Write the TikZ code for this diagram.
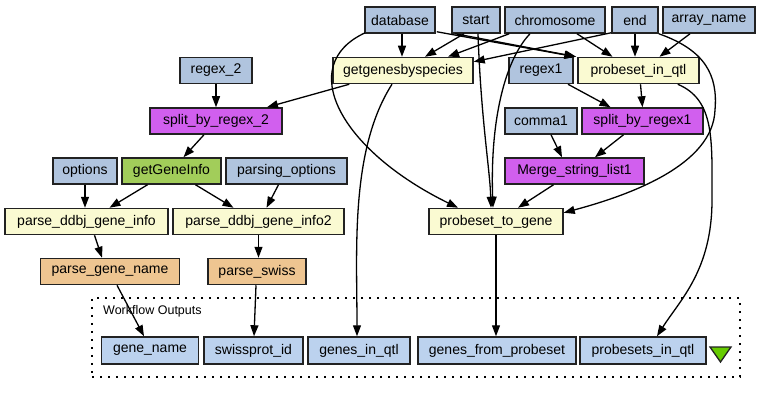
\documentclass[tikz,border=0pt]{standalone}
\usepackage{fontspec}
\setmainfont{Liberation Sans}
\usetikzlibrary{arrows.meta,calc}
\definecolor{inblue}{HTML}{B0C4DE}
\definecolor{yel}{HTML}{FAFAD2}
\definecolor{purp}{HTML}{D15FEE}
\definecolor{grn}{HTML}{A2CD5A}
\definecolor{org}{HTML}{EEC591}
\definecolor{outblue}{HTML}{BCD2EE}
\definecolor{trig}{HTML}{66CC00}
\definecolor{bord}{HTML}{222222}
\begin{document}
\begin{tikzpicture}[x=1pt,y=-1pt,
  box/.style={draw=bord,line width=1.5pt,minimum height=26pt,inner sep=0pt,font=\fontsize{14}{16}\selectfont},
  inbox/.style={box,fill=inblue},
  yelbox/.style={box,fill=yel},
  purbox/.style={box,fill=purp},
  grnbox/.style={box,fill=grn},
  orgbox/.style={box,fill=org},
  outbox/.style={box,fill=outblue,minimum height=27pt},
  edge/.style={line width=1.3pt,-{Triangle[length=11pt,width=8pt]}}
]
\useasboundingbox (0,0) rectangle (761,404);
% cluster
\node[draw,line width=1.8pt,dash pattern=on 1.8pt off 6.2pt,minimum width=648pt,minimum height=79pt,inner sep=0pt] (cluster) at (416,337.5) {};
\node[anchor=west,inner sep=0pt,font=\fontsize{12.5}{14}\selectfont] (cltitle) at (103,311) {Workflow Outputs};
% row 1
\node[inbox,minimum width=70pt] (db) at (400,20) {database};
\node[inbox,minimum width=48pt] (st) at (476,20) {start};
\node[inbox,minimum width=100pt] (chr) at (555,20) {chromosome};
\node[inbox,minimum width=46pt] (en) at (635,20) {end};
\node[inbox,minimum width=92pt] (arr) at (709,20) {array\_name};
% row 2
\node[inbox,minimum width=72pt] (rx2) at (216,70.5) {regex\_2};
\node[yelbox,minimum width=140pt] (ggs) at (403,70.5) {getgenesbyspecies};
\node[inbox,minimum width=64pt] (rx1) at (541,70.5) {regex1};
\node[yelbox,minimum width=121pt] (piq) at (638.5,70.5) {probeset\_in\_qtl};
% row 3
\node[purbox,minimum width=132pt] (s2) at (216,121) {split\_by\_regex\_2};
\node[inbox,minimum width=72pt] (cm1) at (541,121) {comma1};
\node[purbox,minimum width=121pt] (sr1) at (642.5,121) {split\_by\_regex1};
% row 4
\node[inbox,minimum width=64pt] (opt) at (85,171) {options};
\node[grnbox,minimum width=99pt] (ggi) at (171.5,171) {getGeneInfo};
\node[inbox,minimum width=121pt] (popt) at (286.5,171) {parsing\_options};
\node[purbox,minimum width=139pt] (msl) at (574.5,171) {Merge\_string\_list1};
% row 5
\node[yelbox,minimum width=163pt] (pd1) at (86.5,221.5) {parse\_ddbj\_gene\_info};
\node[yelbox,minimum width=171pt] (pd2) at (258.5,221.5) {parse\_ddbj\_gene\_info2};
\node[yelbox,minimum width=134pt] (p2g) at (496,221.5) {probeset\_to\_gene};
% row 6
\node[orgbox,minimum width=139pt] (pgn) at (110,271.5) {parse\_gene\_name};
\node[orgbox,minimum width=98pt] (psw) at (257,271.5) {parse\_swiss};
% outputs
\node[outbox,minimum width=97pt] (gn) at (150,350.5) {gene\_name};
\node[outbox,minimum width=99pt] (sp) at (253.5,350.5) {swissprot\_id};
\node[outbox,minimum width=102pt] (gq) at (359,350.5) {genes\_in\_qtl};
\node[outbox,minimum width=158pt] (gfp) at (497,350.5) {genes\_from\_probeset};
\node[outbox,minimum width=126pt] (pq) at (643,350.5) {probesets\_in\_qtl};
\filldraw[fill=trig,draw=bord,line width=1.3pt] (710,347) -- (731,347) -- (720.5,362) -- cycle;
% edges
\draw[edge] ($(db.south)+(2,0)$) -- ($(ggs.north)+(-1,0)$);
\draw[edge] ($(db.south east)+(1,-2)$) -- ($(piq.north west)+(-2,0)$);
\draw[edge] ($(db.south west)+(1,-1)$) .. controls (295,65) and (340,150) .. ($(p2g.north)+(-38,0)$);
\draw[edge] ($(st.south)+(-12,0)$) -- ($(ggs.north)+(22,0)$);
\draw[edge] ($(st.south west)+(4,0)$) -- ($(piq.north west)+(-1,0)$);
\draw[edge] ($(st.south)+(2,0)$) .. controls (481,120) and (490,170) .. ($(p2g.north)+(-5,0)$);
\draw[edge] ($(chr.south west)+(5,0)$) -- ($(ggs.north)+(45,0)$);
\draw[edge] ($(chr.south)+(22,0)$) -- ($(piq.north)+(-26,0)$);
\draw[edge] ($(chr.south)+(-25,0)$) .. controls (505,60) and (490,120) .. ($(p2g.north)+(-3,0)$);
\draw[edge] ($(en.south west)+(0,-1)$) -- ($(ggs.north east)+(0,5)$);
\draw[edge] (en.south) -- (en.south |- piq.north);
\draw[edge] (en.south east) .. controls (705,50) and (718,75) .. (715,110) .. controls (713,165) and (630,195) .. ($(p2g.north east)+(0,5)$);
\draw[edge] ($(arr.south)+(-19,0)$) -- ($(piq.north)+(21,0)$);
\draw[edge] ($(ggs.south west)+(17,0)$) -- ($(s2.north)+(51,0)$);
\draw[edge] ($(ggs.south)+(-11,0)$) .. controls (350,150) and (357,250) .. ($(gq.north)+(-2,0)$);
\draw[edge] (rx2.south) -- (s2.north);
\draw[edge] ($(s2.south)+(-12,0)$) -- ($(ggi.north)+(12,0)$);
\draw[edge] ($(ggi.south)+(-24,0)$) -- ($(pd1.north)+(23,0)$);
\draw[edge] ($(ggi.south)+(24,0)$) -- ($(pd2.north)+(-25,0)$);
\draw[edge] (opt.south) -- (opt.south |- pd1.north);
\draw[edge] ($(popt.south)+(-8,0)$) -- ($(pd2.north)+(8,0)$);
\draw[edge] ($(pd1.south)+(8,0)$) -- ($(pgn.north)+(-8,0)$);
\draw[edge] (pd2.south) -- (pd2.south |- psw.north);
\draw[edge] ($(pgn.south)+(7,0)$) -- ($(gn.north)+(-6,0)$);
\draw[edge] ($(psw.south)+(-1,0)$) -- ($(sp.north)+(0.5,0)$);
\draw[edge] ($(rx1.south)+(27,0)$) -- ($(sr1.north)+(-32,0)$);
\draw[edge] ($(piq.south)+(2,0)$) -- ($(sr1.north)+(0,0)$);
\draw[edge] ($(piq.south east)+(-22,0)$) .. controls (715,100) and (712,140) .. (712,200) .. controls (712,270) and (680,300) .. ($(pq.north)+(14,0)$);
\draw[edge] ($(cm1.south)+(10,0)$) -- ($(msl.north)+(-12.5,0)$);
\draw[edge] ($(sr1.south)+(-19,0)$) -- ($(msl.north)+(20.5,0)$);
\draw[edge] ($(msl.south)+(-21,0)$) -- ($(p2g.north)+(22,0)$);
\draw[edge] (p2g.south) -- (p2g.south |- gfp.north);
\end{tikzpicture}
\end{document}
